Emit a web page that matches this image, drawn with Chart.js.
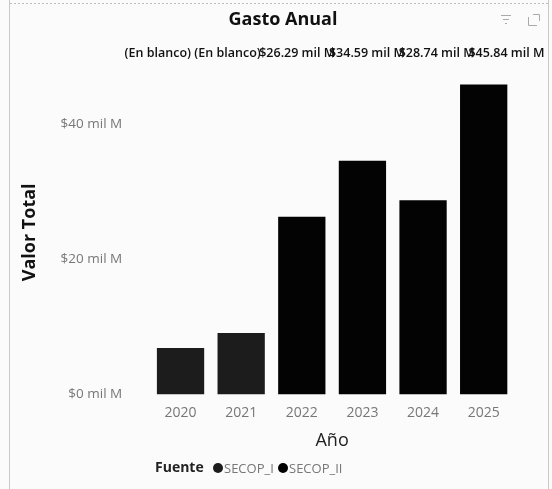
<!DOCTYPE html>
<html>
<head>
<meta charset="utf-8">
<script src="https://cdn.jsdelivr.net/npm/chart.js@4"></script>
<style>
  html, body { margin: 0; padding: 0; background: #fbfbfb; }
  #wrap { position: relative; width: 552px; height: 489px; }
</style>
</head>
<body>
<div id="wrap"><canvas id="chart" width="552" height="489"></canvas></div>
<script>
// Data (values in "mil M")
const years = ["2020", "2021", "2022", "2023", "2024", "2025"];
const secopI = [6.9, 9.1, null, null, null, null];
const secopII = [null, null, 26.29, 34.59, 28.74, 45.84];
const dataLabels = ["(En blanco)", "(En blanco)", "$26.29 mil M", "$34.59 mil M", "$28.74 mil M", "$45.84 mil M"];
const yTicks = [0, 20, 40];

const FONT = "'Open Sans', 'Noto Sans', sans-serif";

// draws the title, icons, top data labels and the inline legend
const decorations = {
  id: "decorations",
  afterDraw(chart) {
    const ctx = chart.ctx;
    const xs = chart.scales.x;
    ctx.save();

    // frame
    ctx.strokeStyle = "#c8c8c8";
    ctx.lineWidth = 1;
    ctx.beginPath();
    ctx.moveTo(9.5, 0); ctx.lineTo(9.5, 489);
    ctx.moveTo(548.5, 0); ctx.lineTo(548.5, 489);
    ctx.stroke();
    ctx.setLineDash([2, 2]);
    ctx.strokeStyle = "#bbb";
    ctx.beginPath();
    ctx.moveTo(10, 3.5); ctx.lineTo(548, 3.5);
    ctx.stroke();
    ctx.setLineDash([]);

    // title
    ctx.fillStyle = "#111";
    ctx.font = "bold 18px " + FONT;
    ctx.textAlign = "center";
    ctx.textBaseline = "middle";
    ctx.fillText("Gasto Anual", 283, 20);

    // header icons
    ctx.strokeStyle = "#aaa";
    ctx.beginPath();
    ctx.moveTo(501, 15.5); ctx.lineTo(511, 15.5);
    ctx.moveTo(503, 19.5); ctx.lineTo(509, 19.5);
    ctx.moveTo(505, 23.5); ctx.lineTo(507, 23.5);
    ctx.moveTo(528.5, 17); ctx.lineTo(528.5, 25.5); ctx.lineTo(537, 25.5);
    ctx.moveTo(533, 14.5); ctx.lineTo(539.5, 14.5); ctx.lineTo(539.5, 21);
    ctx.stroke();

    // data labels: laid out in one row over the plot
    ctx.font = "600 12.5px " + FONT;
    ctx.fillStyle = "#111";
    const mid = (xs.left + xs.right) / 2;
    years.forEach((y, i) => {
      const x = mid + (xs.getPixelForValue(i) - mid) * 1.15;
      ctx.fillText(dataLabels[i], x, 53);
    });

    // legend
    ctx.textAlign = "left";
    ctx.font = "bold 14px " + FONT;
    ctx.fillStyle = "#222";
    ctx.fillText("Fuente", 155, 468);
    const items = [["SECOP_I", "#1c1c1c", 218], ["SECOP_II", "#000", 283]];
    ctx.font = "13px " + FONT;
    items.forEach(([label, color, x]) => {
      ctx.fillStyle = color;
      ctx.beginPath();
      ctx.arc(x, 468, 5, 0, Math.PI * 2);
      ctx.fill();
      ctx.fillStyle = "#777";
      ctx.fillText(label, x + 6, 469);
    });
    ctx.restore();
  }
};

new Chart(document.getElementById("chart"), {
  type: "bar",
  data: {
    labels: years,
    datasets: [
      { label: "SECOP_I", data: secopI, backgroundColor: "#1c1c1c", barPercentage: 0.78, categoryPercentage: 1 },
      { label: "SECOP_II", data: secopII, backgroundColor: "#030303", barPercentage: 0.78, categoryPercentage: 1 }
    ]
  },
  options: {
    responsive: false,
    animation: false,
    layout: { padding: { top: 70, left: 15, right: 38, bottom: 37 } },
    plugins: { legend: { display: false }, tooltip: { enabled: false } },
    scales: {
      x: {
        stacked: true,
        grid: { display: false },
        border: { display: false },
        ticks: { color: "#777", font: { family: FONT, size: 14 }, padding: 2 },
        title: { display: true, text: "Año", color: "#222", font: { family: FONT, size: 18 }, padding: { top: 7, bottom: 0 } }
      },
      y: {
        stacked: true,
        min: 0,
        max: 48,
        grid: { display: false },
        border: { display: false },
        afterBuildTicks: (axis) => { axis.ticks = yTicks.map(v => ({ value: v })); },
        ticks: {
          color: "#777",
          font: { family: FONT, size: 13.5 },
          padding: 20,
          callback: (v) => "$" + v + " mil M"
        },
        title: { display: true, text: "Valor Total", color: "#111", font: { family: FONT, size: 18, weight: "bold" }, padding: { top: 4, bottom: 0 } }
      }
    }
  },
  plugins: [decorations]
});
</script>
</body>
</html>
